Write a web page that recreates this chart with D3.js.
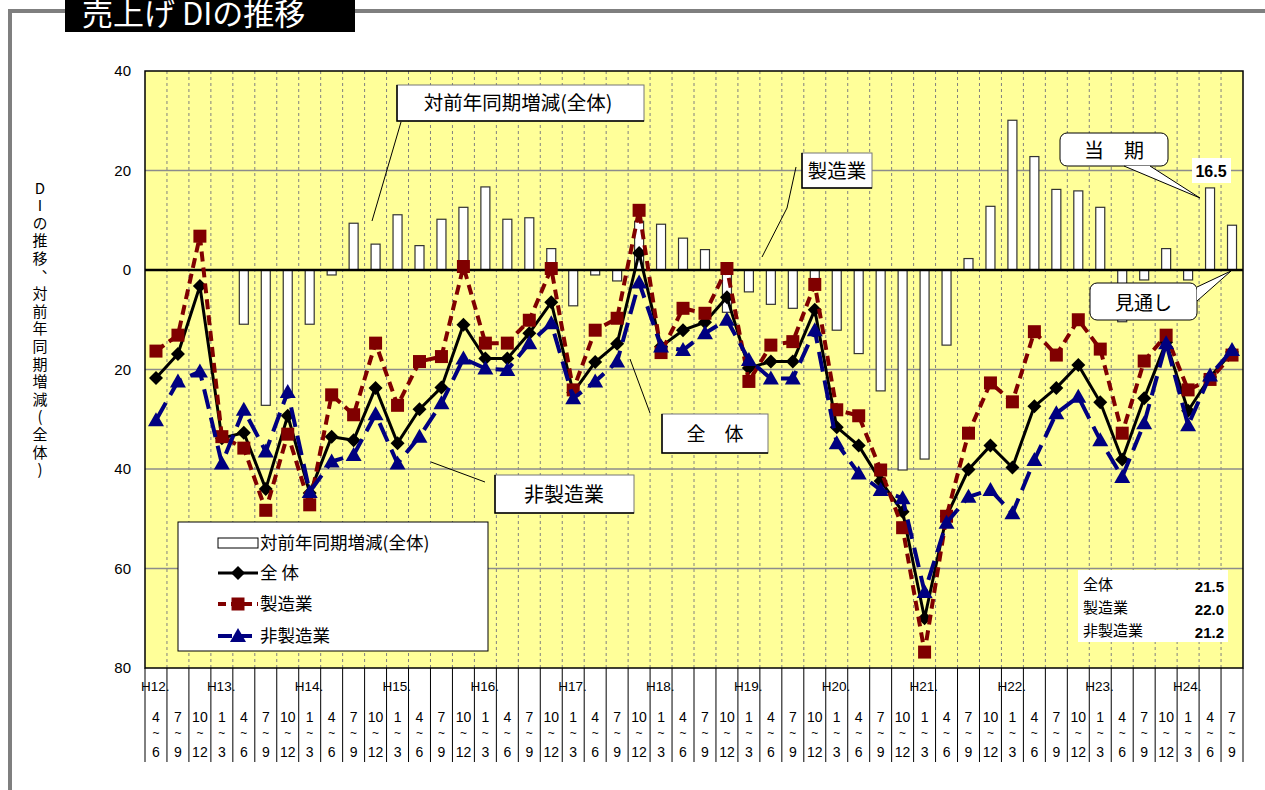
<!DOCTYPE html>
<html><head><meta charset="utf-8">
<script src="https://cdn.jsdelivr.net/npm/d3@7"></script>
<style>
body{margin:0;background:#fff;}
svg{display:block;}
.jp{font-family:"Noto Sans CJK JP","Noto Sans",sans-serif;}
.num{font-family:"Liberation Sans",Arial,sans-serif;}
.vert{writing-mode:vertical-rl;text-orientation:upright;}
</style>
</head><body>
<svg id="chart" width="1265" height="790"></svg>
<script>
// ---------- data ----------
const categories = [
 "H12.4~6","H12.7~9","H12.10~12",
 "H13.1~3","H13.4~6","H13.7~9","H13.10~12",
 "H14.1~3","H14.4~6","H14.7~9","H14.10~12",
 "H15.1~3","H15.4~6","H15.7~9","H15.10~12",
 "H16.1~3","H16.4~6","H16.7~9","H16.10~12",
 "H17.1~3","H17.4~6","H17.7~9","H17.10~12",
 "H18.1~3","H18.4~6","H18.7~9","H18.10~12",
 "H19.1~3","H19.4~6","H19.7~9","H19.10~12",
 "H20.1~3","H20.4~6","H20.7~9","H20.10~12",
 "H21.1~3","H21.4~6","H21.7~9","H21.10~12",
 "H22.1~3","H22.4~6","H22.7~9","H22.10~12",
 "H23.1~3","H23.4~6","H23.7~9","H23.10~12",
 "H24.1~3","H24.4~6","H24.7~9"
];
// 対前年同期増減(全体)
const yoyChange = [
 null,null,null,null,-10.9,-27.2,-25.0,-10.9,-1.0,9.4,
 5.2,11.1,4.9,10.2,12.6,16.7,10.2,10.5,4.3,-7.2,
 -1.0,-2.2,9.8,9.2,6.4,4.1,-8.5,-4.4,-6.9,-7.7,
 -2.5,-12.1,-16.8,-24.3,-40.2,-38.0,-15.1,2.3,12.8,30.1,
 22.8,16.2,15.9,12.6,-10.4,-2.0,4.3,-2.0,16.5,9.0
];
// 全体
const diTotal = [
 -21.7,-16.9,-3.2,-33.8,-32.7,-44.0,-29.3,-44.8,-33.5,-34.2,
 -23.7,-34.8,-28.0,-23.6,-11.0,-17.8,-17.8,-12.7,-6.5,-24.6,
 -18.5,-14.8,3.4,-15.4,-12.1,-10.5,-5.5,-19.7,-18.4,-18.4,
 -8.0,-31.6,-35.3,-42.4,-48.6,-70.0,-49.5,-40.1,-35.3,-39.7,
 -27.4,-23.7,-19.1,-26.6,-38.1,-25.8,-14.5,-28.3,-21.5,-16.5
];
// 製造業
const diManufacturing = [
 -16.3,-13.1,6.8,-33.5,-35.8,-48.3,-33.0,-47.2,-25.1,-29.1,
 -14.7,-27.2,-18.4,-17.4,0.7,-14.7,-14.7,-10.1,0.3,-24.1,
 -12.1,-9.7,12.0,-16.6,-7.7,-8.7,0.3,-22.4,-15.1,-14.4,
 -2.9,-28.1,-29.3,-40.2,-51.8,-76.8,-49.5,-32.8,-22.7,-26.5,
 -12.4,-17.1,-10.0,-15.9,-32.8,-18.3,-13.1,-24.1,-22.0,-17.1
];
// 非製造業
const diNonManufacturing = [
 -30.2,-22.4,-20.4,-38.9,-28.1,-36.5,-24.5,-44.6,-38.5,-37.2,
 -29.0,-38.9,-33.5,-26.8,-17.8,-19.8,-20.1,-14.7,-10.7,-25.8,
 -22.4,-18.4,-2.5,-15.4,-16.1,-12.7,-10.0,-18.1,-21.8,-21.8,
 -12.1,-34.8,-40.9,-44.2,-45.9,-64.7,-50.8,-45.6,-44.2,-48.9,
 -38.2,-28.8,-25.5,-34.2,-41.6,-30.8,-14.7,-31.2,-21.2,-16.1
];
const yTicks = [40,20,0,-20,-40,-60,-80];
const seriesNames = ["対前年同期増減(全体)","全 体","製造業","非製造業"];
const currentLabels = ["全体","製造業","非製造業"];
const currentValues = ["21.5","22.0","21.2"];
const currentYoy = "16.5";

// ---------- setup ----------
const svg = d3.select("#chart");
const L = 145, R = 1243, T = 71, B = 668;
const x = d3.scaleBand().domain(categories).range([L, R]).padding(0);
const bw = x.bandwidth();
const y = d3.scaleLinear().domain([-80, 40]).range([B, T]);
const cx = c => x(c) + bw / 2;

// outer frame
svg.append("path").attr("d", "M10,790 V11 H65 M355,11 H1265")
  .attr("fill", "none").attr("stroke", "#7f7f7f").attr("stroke-width", 4);
// title
svg.append("rect").attr("x", 65).attr("y", 0).attr("width", 290).attr("height", 32).attr("fill", "#000");
svg.append("text").attr("class", "jp").attr("x", 82).attr("y", 25)
  .attr("font-size", 31).attr("fill", "#fff").text("売上げ DIの推移");

// plot background
svg.append("rect").attr("x", L).attr("y", T).attr("width", R - L).attr("height", B - T).attr("fill", "#ffff99");

// vertical dashed grid
svg.append("g").selectAll("line").data(categories.slice(1)).join("line")
  .attr("x1", d => x(d)).attr("x2", d => x(d)).attr("y1", T).attr("y2", B)
  .attr("stroke", "#808080").attr("stroke-width", 1).attr("stroke-dasharray", "3,3");
// horizontal grid
svg.append("g").selectAll("line").data(yTicks.filter(v => v !== 0 && v !== 40 && v !== -80)).join("line")
  .attr("x1", L).attr("x2", R).attr("y1", d => y(d)).attr("y2", d => y(d))
  .attr("stroke", "#8c8c8c").attr("stroke-width", 1.5);

// bars
const barW = 9;
svg.append("g").selectAll("rect").data(categories.map((c, i) => ({c, v: yoyChange[i]})).filter(d => d.v !== null))
  .join("rect")
  .attr("x", d => cx(d.c) - barW / 2).attr("width", barW)
  .attr("y", d => y(Math.max(0, d.v))).attr("height", d => Math.abs(y(d.v) - y(0)))
  .attr("fill", "#fff").attr("stroke", "#333").attr("stroke-width", 1.2);

// zero line
svg.append("line").attr("x1", L).attr("x2", R).attr("y1", y(0)).attr("y2", y(0))
  .attr("stroke", "#000").attr("stroke-width", 2.5);

// plot border
svg.append("rect").attr("x", L).attr("y", T).attr("width", R - L).attr("height", B - T)
  .attr("fill", "none").attr("stroke", "#000").attr("stroke-width", 1.5);

// y axis
const yAxis = d3.axisLeft(y).tickValues(yTicks).tickSize(0).tickPadding(14).tickFormat(d => Math.abs(d));
const ga = svg.append("g").attr("transform", `translate(${L},0)`).call(yAxis);
ga.select(".domain").remove();
ga.selectAll("text").attr("class", "num").attr("font-size", 15).attr("fill", "#000");

// y axis title (vertical, single text)
svg.append("text").attr("class", "jp vert").attr("x", 40).attr("y", 330)
  .attr("text-anchor", "middle").attr("font-size", 15).attr("letter-spacing", 2.6)
  .attr("fill", "#000").text("DIの推移、対前年同期増減(全体)");

// line series
const lineGen = vals => d3.line().x((d, i) => cx(categories[i])).y(d => y(d))(vals);
const diamond = "M0,-7L7,0L0,7L-7,0Z";
const square = "M-6.5,-6.5H6.5V6.5H-6.5Z";
const triangle = "M0,-8L8,6H-8Z";
const series = [
  {vals: diTotal, color: "#000", dash: null, w: 3, marker: diamond},
  {vals: diManufacturing, color: "#800000", dash: "10,6", w: 4, marker: square},
  {vals: diNonManufacturing, color: "#000080", dash: "20,9", w: 4, marker: triangle}
];
series.forEach(s => {
  svg.append("path").attr("d", lineGen(s.vals)).attr("fill", "none")
    .attr("stroke", s.color).attr("stroke-width", s.w)
    .attr("stroke-dasharray", s.dash).attr("stroke-linejoin", "round");
  svg.append("g").selectAll("path").data(s.vals).join("path")
    .attr("transform", (d, i) => `translate(${cx(categories[i])},${y(d)})`)
    .attr("d", s.marker).attr("fill", s.color);
});

// x label table
const xg = svg.append("g");
const bounds = categories.map(c => x(c)).concat([R]);
xg.selectAll("line").data(bounds).join("line")
  .attr("x1", d => d).attr("x2", d => d).attr("y1", B).attr("y2", 762)
  .attr("stroke", "#000").attr("stroke-width", 1);
categories.forEach((c, i) => {
  const [yr, q] = c.split(".");
  const [m1, m2] = q.split("~");
  const prevYr = i > 0 ? categories[i - 1].split(".")[0] : null;
  if (yr !== prevYr) {
    xg.append("text").attr("class", "num").attr("x", x(c) - 4).attr("y", 691)
      .attr("font-size", 13.5).text(yr + ".");
  }
  [[m1, 722, 14], ["~", 737, 12], [m2, 757, 14]].forEach(([t, yy, fs]) => {
    xg.append("text").attr("class", "num").attr("x", cx(c)).attr("y", yy)
      .attr("text-anchor", "middle").attr("font-size", fs).text(t);
  });
});

// legend
const lg = svg.append("g");
lg.append("rect").attr("x", 178).attr("y", 522).attr("width", 310).attr("height", 129)
  .attr("fill", "#fff").attr("stroke", "#000").attr("stroke-width", 1);
lg.append("rect").attr("x", 218).attr("y", 538).attr("width", 40).attr("height", 10)
  .attr("fill", "#fff").attr("stroke", "#000").attr("stroke-width", 1);
const legY = [543, 573, 604, 636];
seriesNames.forEach((n, i) => {
  lg.append("text").attr("class", "jp").attr("x", 260).attr("y", legY[i] + 6)
    .attr("font-size", 17.5).text(n);
  if (i > 0) {
    const s = series[i - 1];
    lg.append("line").attr("x1", 218).attr("x2", 258).attr("y1", legY[i]).attr("y2", legY[i])
      .attr("stroke", s.color).attr("stroke-width", s.w).attr("stroke-dasharray", s.dash ? (i === 2 ? "8,5" : "14,6") : null);
    lg.append("path").attr("transform", `translate(238,${legY[i]})`).attr("d", s.marker).attr("fill", s.color);
  }
});

// callout boxes
function box(x0, y0, w, h, label, fs, tx, ty) {
  svg.append("rect").attr("x", x0).attr("y", y0).attr("width", w).attr("height", h)
    .attr("fill", "#fff").attr("stroke", "#777").attr("stroke-width", 1);
  svg.append("path").attr("d", `M${x0},${y0} V${y0 + h} H${x0 + w}`)
    .attr("fill", "none").attr("stroke", "#000").attr("stroke-width", 1.5);
  svg.append("text").attr("class", "jp").attr("x", tx).attr("y", ty)
    .attr("text-anchor", "middle").attr("font-size", fs).text(label);
}
function leader(pts) {
  svg.append("path").attr("d", d3.line()(pts)).attr("fill", "none").attr("stroke", "#000").attr("stroke-width", 1);
}
leader([[401, 122], [372, 221]]);
box(397, 85, 247, 36, seriesNames[0], 19.5, 518, 110);
leader([[796, 167], [787, 208], [762, 257]]);
box(802, 153, 70, 35, "製造業", 19.5, 837, 178);
leader([[630, 359], [650, 413]]);
box(662, 414, 106, 39, "全　体", 19, 715, 441);
leader([[431, 462], [485, 482]]);
box(495, 475, 139, 38, "非製造業", 20, 564, 502);

// rounded callouts with tails
function bubble(x0, y0, w, h, label, fs, base1, base2, tip) {
  svg.append("rect").attr("x", x0).attr("y", y0).attr("width", w).attr("height", h).attr("rx", 7)
    .attr("fill", "#fff").attr("stroke", "#000").attr("stroke-width", 1);
  svg.append("path").attr("d", `M${base1[0]},${base1[1]} L${tip[0]},${tip[1]} L${base2[0]},${base2[1]}Z`)
    .attr("fill", "#fff").attr("stroke", "none");
  svg.append("path").attr("d", `M${base1[0]},${base1[1]} L${tip[0]},${tip[1]} L${base2[0]},${base2[1]}`)
    .attr("fill", "none").attr("stroke", "#000").attr("stroke-width", 1);
  svg.append("text").attr("class", "jp").attr("x", x0 + w / 2).attr("y", y0 + h / 2)
    .attr("dominant-baseline", "central").attr("text-anchor", "middle").attr("font-size", fs).text(label);
}
bubble(1060, 133, 108, 33, "当　期", 20, [1124, 166], [1150, 166], [1200, 198]);
bubble(1090, 283, 107, 37, "見通し", 19, [1197, 287], [1197, 301], [1231, 271]);

// 16.5 label
svg.append("rect").attr("x", 1192).attr("y", 158).attr("width", 39).attr("height", 25).attr("fill", "#fff");
svg.append("text").attr("class", "num").attr("x", 1211).attr("y", 177).attr("text-anchor", "middle")
  .attr("font-size", 16).attr("font-weight", "bold").text(currentYoy);

// current values box
svg.append("rect").attr("x", 1078).attr("y", 570).attr("width", 150).attr("height", 72).attr("fill", "#fff");
currentLabels.forEach((n, i) => {
  const yy = 590 + i * 23;
  svg.append("text").attr("class", "jp").attr("x", 1083).attr("y", yy).attr("font-size", 15).text(n);
  svg.append("text").attr("class", "num").attr("x", 1224).attr("y", yy + 2).attr("text-anchor", "end")
    .attr("font-size", 15).attr("font-weight", "bold").text(currentValues[i]);
});
</script>
</body></html>
